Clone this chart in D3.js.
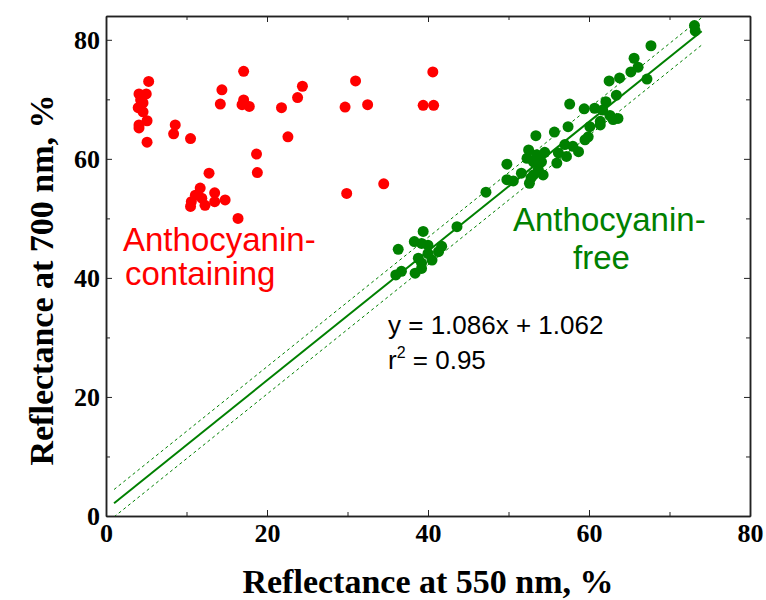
<!DOCTYPE html>
<html>
<head>
  <meta charset="utf-8">
  <title>Reflectance 550 vs 700 nm</title>
  <script src="https://cdnjs.cloudflare.com/ajax/libs/d3/7.8.5/d3.min.js"></script>
  <style>
    body { margin: 0; background: #fff; }
    .tick text { font-family: "Liberation Serif", "Times New Roman", serif; font-weight: bold; font-size: 26px; fill: #000; }
    .axis path, .axis line { stroke: #222; }
    .axis path { stroke-width: 1.5px; }
    .axis-title { font-family: "Liberation Serif", "Times New Roman", serif; font-weight: bold; font-size: 34px; }
    .note { font-family: "Liberation Sans", Arial, sans-serif; }
  </style>
</head>
<body>
  <svg id="chart" width="766" height="600"></svg>

  <script>
    // Anthocyanin-containing leaves: [R550, R700]
    const redX = [5.3, 4.1, 5.0, 4.3, 4.6, 4.0, 4.6, 5.1, 4.1, 4.1, 5.1, 8.6, 8.4, 10.5, 14.4, 14.2,
      17.1, 17.1, 16.9, 17.8, 21.8, 22.6, 23.8, 24.4, 18.7, 18.8, 12.8, 11.7, 11.1, 13.5, 13.5,
      14.8, 11.9, 10.6, 10.5, 12.3, 16.4, 31.0, 29.7, 32.5, 40.6, 39.4, 40.7, 34.5, 29.9];
    const redY = [73.0, 70.9, 70.9, 69.9, 69.4, 68.6, 67.9, 66.4, 65.7, 65.2, 62.8, 65.7, 64.2, 63.4, 71.6, 69.2,
      74.7, 69.9, 69.1, 68.8, 68.6, 63.7, 70.3, 72.2, 60.8, 57.7, 57.6, 55.1, 53.9, 54.3, 52.8,
      53.1, 53.4, 52.8, 52.0, 52.2, 50.0, 73.1, 68.7, 69.1, 74.6, 69.0, 69.0, 55.8, 54.2];

    // Anthocyanin-free leaves: [R550, R700]
    const greenX = [73.1, 73.2, 67.7, 65.6, 66.1, 65.2, 67.2, 63.8, 62.5, 63.4, 57.6, 62.1, 59.4, 60.7,
      61.7, 62.6, 63.6, 63.0, 61.4, 61.4, 57.4, 60.1, 59.9, 59.5, 57.0, 58.0, 58.7,
      55.7, 53.4, 52.5, 54.5, 53.5, 52.3, 53.1, 54.1, 56.2, 57.2, 56.0, 49.8, 53.7, 54.3, 53.1,
      51.6, 49.8, 50.6, 52.6, 52.8, 47.2,
      43.6, 39.4, 38.3, 39.2, 40.0, 36.3, 41.7, 41.3, 40.0, 38.8, 40.5, 39.2, 39.2, 38.4, 36.7, 36.0];
    const greenY = [82.4, 81.5, 79.0, 76.9, 75.4, 74.6, 73.4, 73.6, 73.1, 70.7, 69.2, 69.6, 68.4, 68.5,
      68.2, 67.3, 66.8, 66.6, 66.3, 65.7, 65.4, 65.4, 63.7, 63.2, 62.4, 62.1, 61.2,
      64.5, 63.9, 61.5, 61.1, 60.7, 60.1, 59.5, 59.5, 61.0, 60.4, 59.3, 59.1, 58.2, 57.3, 57.3,
      57.6, 56.5, 56.3, 55.9, 56.8, 54.4,
      48.6, 47.8, 46.1, 45.8, 45.5, 44.8, 45.3, 44.4, 44.1, 43.3, 43.0, 42.5, 41.6, 40.8, 41.1, 40.5];

    // regression for anthocyanin-free leaves
    const fitSlope = 1.086;
    const fitIntercept = 1.062;
    const fitRange = [1, 74];
    const bandOffset = 2.3;

    const xTicks = [0, 20, 40, 60, 80];
    const yTicks = [0, 20, 40, 60, 80];
    const minorTicks = [10, 30, 50, 70];

    const svg = d3.select("#chart");
    const mLeft = 106, mRight = 750, mTop = 16, mBottom = 516;

    const x = d3.scaleLinear().domain([0, 80]).range([mLeft, mRight]);
    const y = d3.scaleLinear().domain([0, 84]).range([mBottom, mTop]);

    svg.append("defs").append("clipPath").attr("id", "plot")
      .append("rect")
      .attr("x", mLeft).attr("y", mTop)
      .attr("width", mRight - mLeft).attr("height", mBottom - mTop);

    // axes (ticks point inward)
    svg.append("g").attr("class", "axis")
      .attr("transform", `translate(0,${mBottom})`)
      .call(d3.axisBottom(x).tickValues(xTicks).tickSize(-6).tickSizeOuter(0).tickPadding(8));
    svg.append("g").attr("class", "axis")
      .attr("transform", `translate(0,${mBottom})`)
      .call(d3.axisBottom(x).tickValues(minorTicks).tickSize(-4).tickSizeOuter(0).tickFormat(""));
    svg.append("g").attr("class", "axis")
      .attr("transform", `translate(${mLeft},0)`)
      .call(d3.axisLeft(y).tickValues(yTicks).tickSize(-6).tickSizeOuter(0).tickPadding(6));
    svg.append("g").attr("class", "axis")
      .attr("transform", `translate(${mLeft},0)`)
      .call(d3.axisLeft(y).tickValues(minorTicks).tickSize(-4).tickSizeOuter(0).tickFormat(""));

    // mirror ticks on top and right
    svg.append("g").attr("class", "axis")
      .attr("transform", `translate(0,${mTop})`)
      .call(d3.axisTop(x).tickValues(xTicks).tickSize(-6).tickSizeOuter(0).tickFormat(""));
    svg.append("g").attr("class", "axis")
      .attr("transform", `translate(0,${mTop})`)
      .call(d3.axisTop(x).tickValues(minorTicks).tickSize(-4).tickSizeOuter(0).tickFormat(""));
    svg.append("g").attr("class", "axis")
      .attr("transform", `translate(${mRight},0)`)
      .call(d3.axisRight(y).tickValues(yTicks).tickSize(-6).tickSizeOuter(0).tickFormat(""));
    svg.append("g").attr("class", "axis")
      .attr("transform", `translate(${mRight},0)`)
      .call(d3.axisRight(y).tickValues(minorTicks).tickSize(-4).tickSizeOuter(0).tickFormat(""));

    // fit line and bands
    const plot = svg.append("g").attr("clip-path", "url(#plot)");
    const line = d3.line().x(d => x(d[0])).y(d => y(d[1]));
    const fitLine = off => fitRange.map(v => [v, fitSlope * v + fitIntercept + off]);

    plot.append("path").attr("d", line(fitLine(bandOffset)))
      .attr("fill", "none").attr("stroke", "#008000").attr("stroke-width", 1).attr("stroke-dasharray", "3,3");
    plot.append("path").attr("d", line(fitLine(-bandOffset)))
      .attr("fill", "none").attr("stroke", "#008000").attr("stroke-width", 1).attr("stroke-dasharray", "3,3");
    plot.append("path").attr("d", line(fitLine(0)))
      .attr("fill", "none").attr("stroke", "#008000").attr("stroke-width", 2);

    // points
    svg.append("g").selectAll("circle")
      .data(greenX.map((v, i) => [v, greenY[i]]))
      .enter().append("circle")
      .attr("cx", d => x(d[0])).attr("cy", d => y(d[1]))
      .attr("r", 5.5).attr("fill", "#008000");

    svg.append("g").selectAll("circle")
      .data(redX.map((v, i) => [v, redY[i]]))
      .enter().append("circle")
      .attr("cx", d => x(d[0])).attr("cy", d => y(d[1]))
      .attr("r", 5.5).attr("fill", "#ff0000");

    // annotations
    svg.append("text").attr("class", "note").attr("x", 123).attr("y", 251)
      .attr("font-size", 33).attr("fill", "#ff0000").text("Anthocyanin-");
    svg.append("text").attr("class", "note").attr("x", 125).attr("y", 285)
      .attr("font-size", 33).attr("fill", "#ff0000").text("containing");

    svg.append("text").attr("class", "note").attr("x", 513).attr("y", 231)
      .attr("font-size", 33).attr("fill", "#008000").text("Anthocyanin-");
    svg.append("text").attr("class", "note").attr("x", 573).attr("y", 269)
      .attr("font-size", 33).attr("fill", "#008000").text("free");

    svg.append("text").attr("class", "note").attr("x", 388).attr("y", 334)
      .attr("font-size", 26).text(`y = ${fitSlope}x + ${fitIntercept}`);
    const r2 = svg.append("text").attr("class", "note").attr("x", 388).attr("y", 369)
      .attr("font-size", 26);
    r2.append("tspan").text("r");
    r2.append("tspan").attr("dy", -11).attr("font-size", 16).text("2");
    r2.append("tspan").attr("dy", 11).text(" = 0.95");

    // axis titles
    svg.append("text").attr("class", "axis-title")
      .attr("x", 428).attr("y", 593)
      .attr("text-anchor", "middle")
      .text("Reflectance at 550 nm, %");
    svg.append("text").attr("class", "axis-title")
      .attr("transform", "translate(53,280) rotate(-90)")
      .attr("text-anchor", "middle")
      .text("Reflectance at 700 nm, %");
  </script>
</body>
</html>
